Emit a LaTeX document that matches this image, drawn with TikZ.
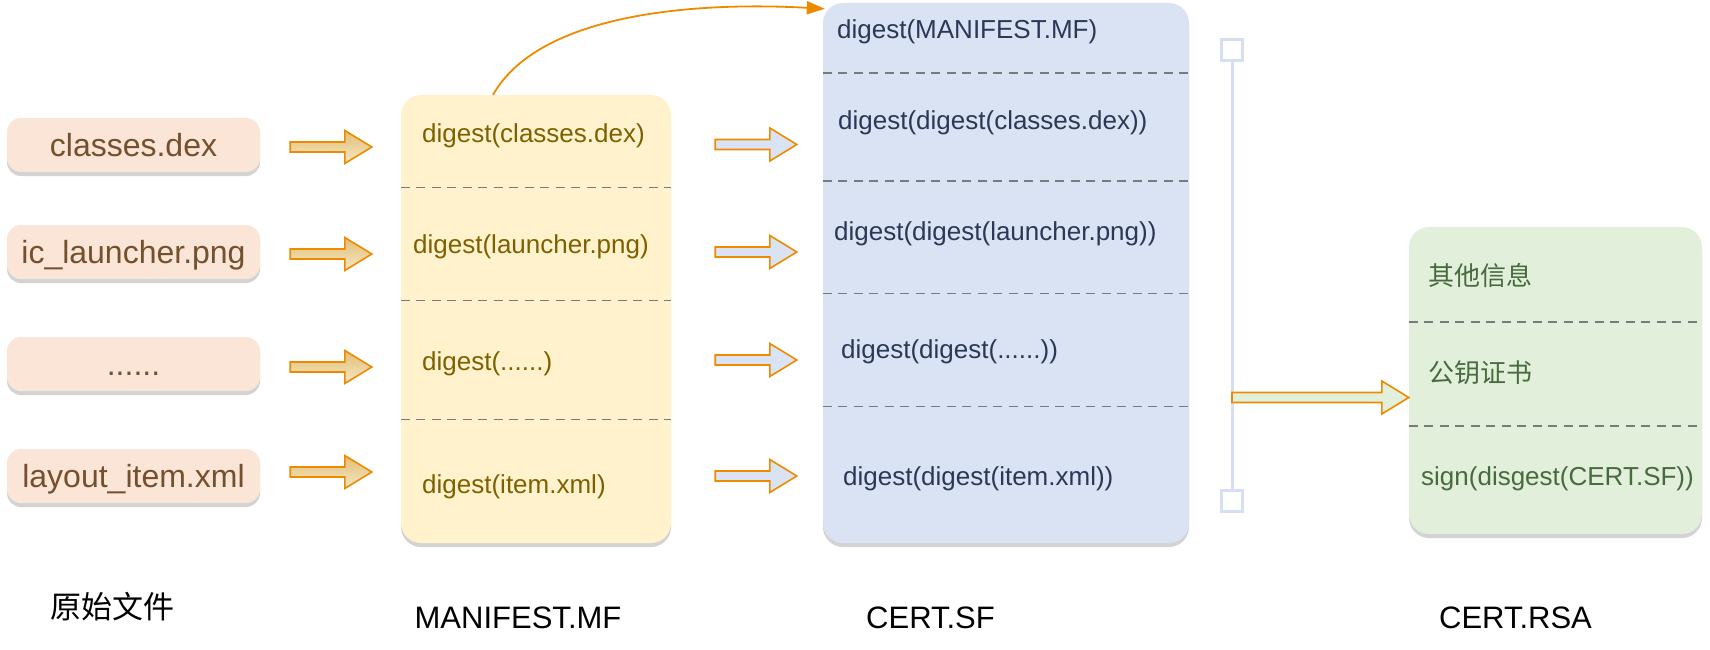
\documentclass[tikz,border=0pt]{standalone}
\usepackage{fontspec}
\setmainfont{Liberation Sans}
\newfontfamily\cjk{Noto Sans CJK SC}
\usetikzlibrary{calc,shadows,arrows.meta}

\definecolor{cPeach}{HTML}{FBE5D6}
\definecolor{cPeachTxt}{HTML}{74502F}
\definecolor{cMf}{HTML}{FFF2CC}
\definecolor{cMfTxt}{HTML}{7F6000}
\definecolor{cSf}{HTML}{DAE3F3}
\definecolor{cSfTxt}{HTML}{2B3857}
\definecolor{cRsa}{HTML}{E2EFDA}
\definecolor{cRsaTxt}{HTML}{476B3F}
\definecolor{cOrange}{HTML}{EE8A00}
\definecolor{cTanA}{HTML}{E2BE74}
\definecolor{cTanB}{HTML}{F4E8C6}
\definecolor{cBrk}{HTML}{D6DFF1}
\definecolor{cSep}{HTML}{7A7A7A}

\newcommand{\sixdots}{......}

\tikzset{
  boxshadow/.style={drop shadow={shadow xshift=0pt,shadow yshift=-4pt,fill=black!50,opacity=.35}},
  srcbox/.style={rounded corners=14pt, fill=cPeach, text=cPeachTxt, minimum width=253pt,
    minimum height=54pt, text height=27pt, text depth=4pt, font=\fontsize{32}{38}\selectfont, boxshadow},
  bigbox/.style={rounded corners=20pt, boxshadow},
  mfcell/.style={anchor=west, inner sep=0pt, text=cMfTxt, font=\fontsize{26}{31}\selectfont},
  sfcell/.style={mfcell, text=cSfTxt},
  rsacell/.style={mfcell, text=cRsaTxt},
  sepline/.style={draw=cSep, line width=1.8pt, dash pattern=on 9pt off 6.5pt},
  caption/.style={text=black, font=\fontsize{31}{37}\selectfont},
  brksq/.style={draw=cBrk, fill=white, line width=3pt, minimum size=21pt, inner sep=0pt},
  brkline/.style={draw=cBrk, line width=3pt},
  fatarr/.style={draw=cOrange, line width=1.6pt, line join=miter,
    to path={let \p1=(\tikztostart), \p2=(\tikztotarget) in
      (\x1,\y1+5pt) -- (\x2-27pt,\y1+5pt) -- (\x2-27pt,\y1+16.5pt) -- (\x2,\y1)
      -- (\x2-27pt,\y1-16.5pt) -- (\x2-27pt,\y1-5pt) -- (\x1,\y1-5pt) -- cycle}},
  curvearr/.style={draw=cOrange, line width=1.8pt, -{Triangle[length=18pt,width=13pt]}}
}

\begin{document}
\begin{tikzpicture}[x=1pt,y=-1pt]
  \useasboundingbox (0,0) rectangle (1710,650);

  % source files
  \foreach \i/\y/\t in {1/145/classes.dex, 2/252/ic\_launcher.png, 3/364/\sixdots, 4/476/layout\_item.xml}
    \node[srcbox] (src\i) at (133.5,\y) {\t};

  % MANIFEST.MF
  \node[bigbox, fill=cMf, minimum width=270pt, minimum height=448pt] (mf) at (536,319) {};
  \foreach \y in {187.5,300.5,419.5}
    \draw[sepline] (mf.west |- 0,\y) -- (mf.east |- 0,\y);
  \node[mfcell] (m1) at (422,136) {digest(classes.dex)};
  \node[mfcell] (m2) at (413,246.5) {digest(launcher.png)};
  \node[mfcell] (m3) at (422,364) {digest(\sixdots)};
  \node[mfcell] (m4) at (422,487) {digest(item.xml)};

  % CERT.SF
  \node[bigbox, fill=cSf, minimum width=366pt, minimum height=540pt] (sf) at (1006,273) {};
  \foreach \y in {73,181,293.5,406.5}
    \draw[sepline] (sf.west |- 0,\y) -- (sf.east |- 0,\y);
  \node[sfcell] (s0) at (837,32) {digest(MANIFEST.MF)};
  \node[sfcell] (s1) at (838,123) {digest(digest(classes.dex))};
  \node[sfcell] (s2) at (834,234) {digest(digest(launcher.png))};
  \node[sfcell] (s3) at (841,352) {digest(digest(\sixdots))};
  \node[sfcell] (s4) at (843,479) {digest(digest(item.xml))};

  % CERT.RSA
  \node[bigbox, fill=cRsa, minimum width=293pt, minimum height=307pt] (rsa) at (1555.5,380.5) {};
  \foreach \y in {322,426}
    \draw[sepline] (rsa.west |- 0,\y) -- (rsa.east |- 0,\y);
  \node[rsacell] (r1) at (1428,276) {\cjk 其他信息};
  \node[rsacell] (r2) at (1428,373) {\cjk 公钥证书};
  \node[rsacell] (r3) at (1421,479) {sign(disgest(CERT.SF))};

  % bracket
  \node[brksq] (bt) at (1232,50) {};
  \node[brksq] (bb) at (1232,501) {};
  \draw[brkline] (bt) -- (bb);

  % arrows
  \foreach \i/\dy in {1/2,2/2,3/3,4/-4}
    \draw[fatarr, top color=cTanA, bottom color=cTanB] ($(src\i.east)+(30,\dy)$) to ($(src\i.east -| mf.west)+(-29,\dy)$);
  \foreach \i/\dy in {1/8.5,2/5.5,3/-4,4/-11}
    \draw[fatarr, fill=cSf] ($(m\i.west -| mf.east)+(44,\dy)$) to ($(m\i.west -| sf.west)+(-26,\dy)$);
  \draw[fatarr, fill=cRsa] ($(bt |- rsa.west)+(0,17)$) to ($(rsa.west)+(0,17)$);
  \draw[curvearr] ([xshift=-43pt]mf.north) .. controls +(47,-83) and +(-125,-7) .. ([xshift=2pt,yshift=-6pt]sf.north west);

  % captions
  \node[caption] (capsrc) at (112,607) {\cjk 原始文件};
  \node[caption] (capmf) at (518,618) {MANIFEST.MF};
  \node[caption] (capsf) at (930.5,618) {CERT.SF};
  \node[caption] (caprsa) at (1515.5,618) {CERT.RSA};
\end{tikzpicture}
\end{document}
